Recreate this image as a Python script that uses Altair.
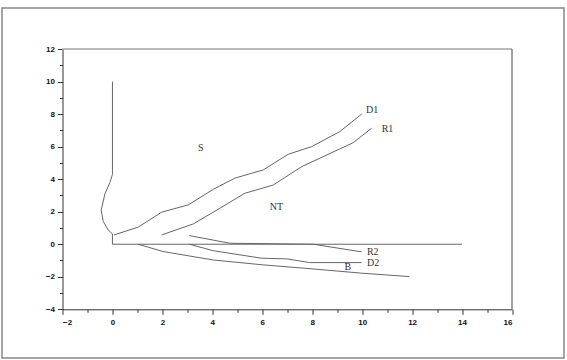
import altair as alt
import pandas as pd

# ---- data ----
S_BOUND_X = [0, 0, -0.1, -0.3, -0.45, -0.37, -0.17, 0, 0, 14]
S_BOUND_Y = [10, 4.3, 3.8, 3.1, 2.1, 1.4, 0.88, 0.63, 0, 0]

D1_X = [0.06, 1.03, 1.97, 3.04, 4.04, 4.9, 6.04, 7.04, 7.98, 9.1, 9.98]
D1_Y = [0.57, 1.05, 1.97, 2.42, 3.38, 4.06, 4.57, 5.53, 6.0, 6.92, 8.0]

R1_X = [1.97, 3.24, 4.3, 5.3, 6.44, 7.58, 9.64, 10.38]
R1_Y = [0.57, 1.25, 2.21, 3.13, 3.64, 4.77, 6.24, 7.13]

R2_X = [3.08, 4.7, 8.04, 9.98]
R2_Y = [0.53, 0.06, 0.0, -0.47]

D2_X = [3.08, 4.04, 5.97, 6.98, 7.9, 9.98]
D2_Y = [0.0, -0.4, -0.86, -0.9, -1.13, -1.13]

B_X = [1.03, 2.03, 4.04, 6.04, 8.04, 9.98, 11.89]
B_Y = [0.0, -0.45, -0.97, -1.27, -1.52, -1.78, -1.99]

END_LABELS = ["D1", "R1", "R2", "D2"]
END_LABEL_X = [10.15, 10.78, 10.19, 10.19]
END_LABEL_Y = [8.25, 7.07, -0.49, -1.17]

REGION_LABELS = ["S", "NT", "B"]
REGION_LABEL_X = [3.54, 6.57, 9.43]
REGION_LABEL_Y = [5.92, 2.31, -1.41]

X_TICKS = list(range(-2, 17))
Y_TICKS = list(range(-4, 13))

# ---- build tables ----
rows = []
for name, xs, ys in [("S", S_BOUND_X, S_BOUND_Y), ("D1", D1_X, D1_Y),
                     ("R1", R1_X, R1_Y), ("R2", R2_X, R2_Y),
                     ("D2", D2_X, D2_Y), ("B", B_X, B_Y)]:
    for i, (x, y) in enumerate(zip(xs, ys)):
        rows.append({"series": name, "idx": i, "x": x, "y": y})
lines_df = pd.DataFrame(rows)

end_df = pd.DataFrame({"label": END_LABELS, "x": END_LABEL_X, "y": END_LABEL_Y})
reg_df = pd.DataFrame({"label": REGION_LABELS, "x": REGION_LABEL_X, "y": REGION_LABEL_Y})

W, H = 449.5, 260.3
PAD_L, PAD_T = 62.5, 49
PAD_R = 567 - PAD_L - W
PAD_B = 360 - PAD_T - H

xscale = alt.Scale(domain=[-2, 16], nice=False, zero=False)
yscale = alt.Scale(domain=[-4, 12], nice=False, zero=False)

axis_common = dict(
    grid=False,
    domainColor="#333",
    tickColor="#333",
    domainWidth=1,
    tickWidth=1,
    tickSize={"condition": {"test": "datum.value % 2 === 0", "value": 5}, "value": 3},
    labelFont="Liberation Sans",
    labelFontWeight="bold",
    labelFontSize=8,
    labelColor="#111",
    labelOverlap=False,
    labelBound=False,
    labelExpr="datum.value % 2 === 0 ? datum.label : ''",
    title=None,
)

xaxis = alt.Axis(values=X_TICKS, labelPadding=4, **axis_common)
yaxis = alt.Axis(values=Y_TICKS, labelPadding=3, **axis_common)

X = alt.X("x:Q", scale=xscale, axis=xaxis)
Y = alt.Y("y:Q", scale=yscale, axis=yaxis)

lines = alt.Chart(lines_df).mark_line(color="#666", strokeWidth=1).encode(
    x=X, y=Y, detail="series:N", order="idx:Q",
)

end_text = alt.Chart(end_df).mark_text(
    align="left", baseline="middle", font="Liberation Serif", fontSize=10, color="#333"
).encode(x=X, y=Y, text="label:N")

reg_text = alt.Chart(reg_df).mark_text(
    align="center", baseline="middle", font="Liberation Serif", fontSize=10, color="#333"
).encode(x=X, y=Y, text="label:N")

top_rule = alt.Chart(pd.DataFrame({"a": [0]})).mark_rule(color="#bbb", strokeWidth=2).encode(
    x=alt.value(0), x2=alt.value(W), y=alt.value(0)
)
right_rule = alt.Chart(pd.DataFrame({"a": [0]})).mark_rule(color="#444", strokeWidth=1).encode(
    x=alt.value(W), y=alt.value(0), y2=alt.value(H)
)
outer = alt.Chart(pd.DataFrame({"a": [0]})).mark_rect(
    fill=None, filled=False, stroke="#888", strokeWidth=1.5, clip=False
).encode(
    x=alt.value(2 - PAD_L), x2=alt.value(564 - PAD_L),
    y=alt.value(8 - PAD_T), y2=alt.value(358 - PAD_T)
)

chart = alt.layer(lines, end_text, reg_text, outer, top_rule, right_rule).properties(
    width=W, height=H,
    autosize=alt.AutoSizeParams(type="none"),
    padding={"left": PAD_L, "top": PAD_T, "right": PAD_R, "bottom": PAD_B},
    background="white",
).configure_view(stroke=None).configure_axis(labelOverlap=False, labelBound=False)

chart.save("out.html", embed_options={"renderer": "svg", "actions": False})
